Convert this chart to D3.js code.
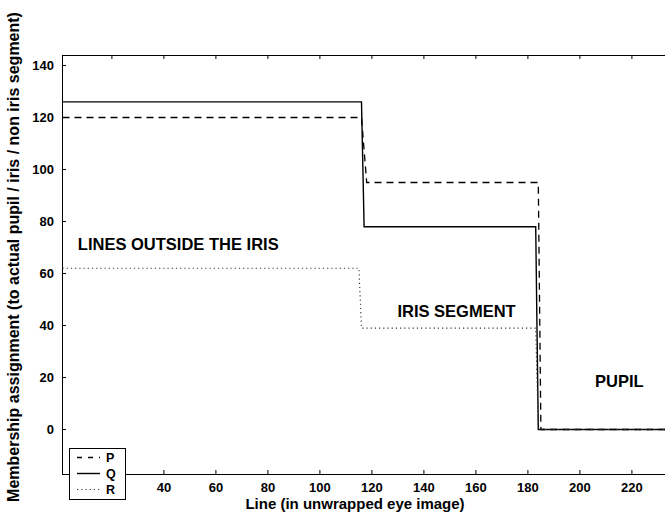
<!DOCTYPE html>
<html><head><meta charset="utf-8">
<script src="https://cdn.jsdelivr.net/npm/d3@7"></script>
<style>
html,body{margin:0;padding:0;background:#fff;}
svg{display:block;}
text{font-family:"Liberation Sans",Arial,sans-serif;font-weight:bold;fill:#000;}
</style></head>
<body>
<svg id="chart" width="665" height="516"></svg>
<script>
// ---- data ----
const xTicksTop = [20, 40, 60, 80, 100, 120, 140, 160, 180, 200, 220];
const xTicksBottom = [40, 60, 80, 100, 120, 140, 160, 180, 200, 220];
const yTicks = [0, 20, 40, 60, 80, 100, 120, 140];
const pX = [1, 116, 118, 184, 185, 233];
const pY = [120, 120, 95, 95, 0, 0];
const qX = [1, 116, 117, 183, 184, 233];
const qY = [126, 126, 78, 78, 0, 0];
const rX = [1, 115, 116, 183, 184, 233];
const rY = [62, 62, 39, 39, 0, 0];
const seriesNames = ["P", "Q", "R"];
const annotations = [
  {text: "LINES OUTSIDE THE IRIS", x: 7.1, y: 68.8},
  {text: "IRIS SEGMENT", x: 130.0, y: 43.2},
  {text: "PUPIL", x: 206, y: 16.2}
];
const xTitle = "Line (in unwrapped eye image)";
const yTitle = "Membership assignment (to actual pupil / iris / non iris segment)";

// ---- layout ----
const svg = d3.select("#chart");
const L = 62, R = 665.2, T = 55, B = 474;
const x = d3.scaleLinear().domain([1, 233]).range([L, R]);
const y = d3.scaleLinear().domain([-17.3, 143.85]).range([B, T]);

// top frame line
svg.append("line").attr("x1", L).attr("x2", 665).attr("y1", T + 0.5).attr("y2", T + 0.5).attr("stroke", "#000").attr("stroke-width", 1);

// axes (inward ticks)
const xAxis = svg.append("g").attr("transform", `translate(0,${B})`)
  .call(d3.axisBottom(x).tickValues(xTicksBottom).tickSize(-4).tickPadding(9).tickFormat(d3.format("d")));
const yAxis = svg.append("g").attr("transform", `translate(${L},0)`)
  .call(d3.axisLeft(y).tickValues(yTicks).tickSize(-4).tickPadding(8).tickFormat(d3.format("d")));
const xTop = svg.append("g").attr("transform", `translate(0,${T})`)
  .call(d3.axisTop(x).tickValues(xTicksTop).tickSize(-4).tickFormat(""));
[xAxis, yAxis, xTop].forEach(g => {
  g.select(".domain").attr("stroke", "#000").attr("stroke-width", 1);
  g.selectAll(".tick line").attr("stroke", "#000");
  g.selectAll("text").style("font-family", '"Liberation Sans",Arial,sans-serif')
    .style("font-weight", "bold").style("font-size", "13px").attr("fill", "#000");
});
xAxis.selectAll("text").attr("dy", "0.71em");

// series
const line = d3.line().x(d => x(d[0])).y(d => y(d[1]));
const styles = {
  P: {dash: "7,5", width: 1.3, color: "#000"},
  Q: {dash: null, width: 1.4, color: "#000"},
  R: {dash: "1.2,3", width: 1.1, color: "#333"}
};
const data = {P: d3.zip(pX, pY), Q: d3.zip(qX, qY), R: d3.zip(rX, rY)};
const sg = svg.append("g").attr("transform", "translate(0.5,0.5)");
seriesNames.forEach(n => {
  sg.append("path").datum(data[n]).attr("d", line)
    .attr("fill", "none").attr("stroke", styles[n].color)
    .attr("stroke-width", styles[n].width)
    .attr("stroke-dasharray", styles[n].dash);
});

// annotations
annotations.forEach(a => {
  svg.append("text").attr("x", x(a.x)).attr("y", y(a.y))
    .style("font-size", "16.5px").text(a.text);
});

// axis titles
svg.append("text").attr("x", 355).attr("y", 509).attr("text-anchor", "middle")
  .style("font-size", "15px").text(xTitle);
svg.append("text").attr("transform", "translate(19,257) rotate(-90)").attr("text-anchor", "middle")
  .style("font-size", "16px").text(yTitle);

// legend
const lg = svg.append("g");
lg.append("rect").attr("x", 69.5).attr("y", 448.5).attr("width", 56).attr("height", 51)
  .attr("fill", "#fff").attr("stroke", "#000").attr("stroke-width", 1);
seriesNames.forEach((n, i) => {
  const yy = 457.5 + i * 16;
  lg.append("line").attr("x1", 77).attr("x2", 100).attr("y1", yy).attr("y2", yy)
    .attr("stroke", styles[n].color).attr("stroke-width", styles[n].width)
    .attr("stroke-dasharray", n === "P" ? "5,6" : styles[n].dash);
  lg.append("text").attr("x", 106).attr("y", yy + 4.5).style("font-size", "12.5px").text(n);
});
</script>
</body></html>
